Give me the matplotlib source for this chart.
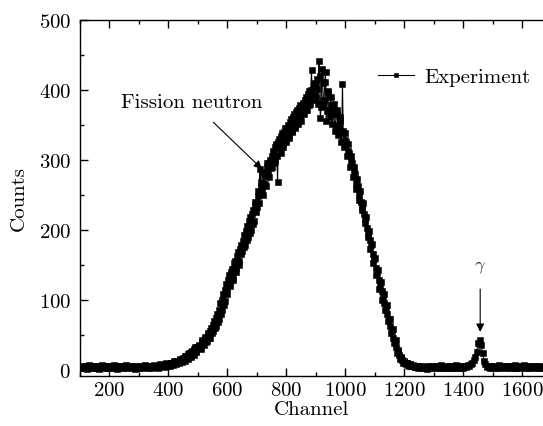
"""Neutron spectrum: counts per channel with fission-neutron bump and gamma line."""

import numpy as np
import matplotlib

matplotlib.use("Agg")
import matplotlib.pyplot as plt

# counts, one value every 5 channels starting at channel 100
# (rows of ten values = 50 channels)
counts = [
    4, 2, 6, 3, 5, 1, 7, 3, 5, 2,            # 100
    6, 3, 5, 1, 4, 7, 2, 5, 3, 6,            # 150
    2, 5, 3, 7, 4, 1, 6, 3, 5, 2,            # 200
    5, 7, 2, 4, 6, 3, 5, 1, 6, 4,            # 250
    3, 6, 2, 5, 7, 4, 2, 6, 3, 5,            # 300
    7, 4, 6, 3, 8, 5, 7, 4, 9, 6,            # 350
    8, 5, 10, 7, 12, 8, 13, 9, 15, 11,       # 400
    17, 13, 20, 16, 24, 18, 27, 21, 32, 25,  # 450
    31, 36, 30, 42, 35, 47, 41, 52, 46, 60,  # 500
    55, 70, 62, 80, 72, 95, 85, 108, 98, 122,          # 550
    115, 135, 125, 144, 132, 156, 145, 168, 150, 178,  # 600
    170, 192, 178, 205, 190, 218, 200, 228, 212, 240,  # 650
    232, 255, 287, 262, 250, 282, 262, 295, 275, 300,  # 700
    290, 312, 298, 322, 268, 330, 310, 338, 318, 345,  # 750
    325, 350, 332, 358, 340, 366, 345, 372, 352, 378,  # 800
    355, 382, 365, 390, 372, 398, 380, 428, 385, 410,  # 850
    388, 415, 442, 360, 430, 378, 412, 355, 398, 372,  # 900
    390, 352, 380, 342, 372, 335, 362, 325, 408, 318,  # 950
    338, 305, 322, 290, 305, 275, 290, 258, 272, 242,  # 1000
    255, 228, 238, 210, 218, 190, 198, 172, 180, 152,  # 1050
    160, 135, 142, 115, 125, 100, 108, 85, 92, 70,     # 1100
    72, 52, 58, 38, 42, 24, 28, 15, 18, 10,  # 1150
    13, 8, 10, 6, 8, 5, 7, 4, 6, 4,          # 1200
    5, 2, 6, 3, 4, 1, 5, 3, 6, 2,            # 1250
    4, 6, 2, 5, 3, 7, 2, 4, 6, 3,            # 1300
    5, 2, 6, 3, 4, 7, 2, 5, 3, 6,            # 1350
    3, 6, 4, 7, 5, 8, 10, 14, 18, 26,        # 1400
    38, 42, 36, 24, 12, 8, 4, 6, 3, 5,       # 1450
    2, 6, 4, 3, 7, 2, 5, 4, 6, 3,            # 1500
    5, 2, 6, 4, 3, 7, 2, 5, 3, 6,            # 1550
    4, 7, 2, 5, 3, 6, 2, 4, 6, 3,            # 1600
    5, 2, 6, 4, 3,                           # 1650
]
first_channel = 100
channel_step = 5

# extra readings in the dense bump, channels 402.5, 407.5, ... 1247.5
counts_mid = [
    7, 9, 8, 11, 10, 12, 11, 14, 13, 16,               # 402.5
    15, 19, 17, 22, 20, 25, 23, 29, 27, 33,            # 452.5
    34, 33, 39, 37, 44, 40, 49, 45, 56, 52,            # 502.5
    64, 60, 74, 68, 86, 80, 100, 93, 114, 108,         # 552.5
    128, 120, 140, 128, 152, 140, 162, 155, 172, 165,  # 602.5
    184, 176, 198, 186, 212, 196, 222, 208, 235, 226,  # 652.5
    248, 238, 268, 256, 278, 266, 290, 280, 296, 288,  # 702.5
    306, 295, 318, 305, 326, 315, 334, 322, 340, 330,  # 752.5
    346, 335, 354, 342, 362, 350, 368, 358, 374, 362,  # 802.5
    376, 368, 386, 372, 394, 378, 400, 388, 405, 392,  # 852.5
    402, 380, 420, 375, 410, 385, 425, 370, 395, 362,  # 902.5
    378, 365, 372, 350, 365, 345, 355, 338, 342, 328,  # 952.5
    325, 312, 310, 298, 295, 282, 280, 266, 262, 250,  # 1002.5
    240, 232, 222, 215, 202, 196, 185, 178, 165, 158,  # 1052.5
    145, 138, 128, 120, 112, 104, 96, 88, 80, 72,      # 1102.5
    62, 55, 46, 40, 32, 26, 21, 17, 14, 11,            # 1152.5
    10, 9, 7, 8, 6, 5, 6, 4, 5, 3,                     # 1202.5
]
first_channel_mid = 402.5

x_ticks = [200, 400, 600, 800, 1000, 1200, 1400, 1600]
y_ticks = [0, 100, 200, 300, 400, 500]


def main() -> None:
    plt.rcParams["font.family"] = "cmr10"
    plt.rcParams["mathtext.fontset"] = "cm"
    plt.rcParams["axes.formatter.use_mathtext"] = True
    plt.rcParams["axes.unicode_minus"] = False

    y_a = np.asarray(counts, dtype=float)
    x_a = first_channel + channel_step * np.arange(y_a.size)
    y_b = np.asarray(counts_mid, dtype=float)
    x_b = first_channel_mid + channel_step * np.arange(y_b.size)
    channel = np.concatenate([x_a, x_b])
    values = np.concatenate([y_a, y_b])
    order = np.argsort(channel)
    channel, values = channel[order], values[order]

    fig = plt.figure(figsize=(5.43, 4.27), dpi=100)
    ax = fig.add_axes([80 / 543, 1 - 377 / 427, 463 / 543, 356 / 427])

    ax.plot(channel, values, color="black", lw=0.8, marker="s",
            markersize=4.0, markeredgewidth=0.4, label="Experiment")

    ax.set_xlim(100, 1670)
    ax.set_ylim(-9, 500)
    ax.set_xticks(x_ticks)
    ax.set_yticks(y_ticks)
    ax.set_xticks(np.arange(100, 1700, 100), minor=True)
    ax.set_yticks(np.arange(0, 501, 50), minor=True)
    ax.tick_params(which="both", direction="in", top=True, right=False,
                   labelsize=15, width=1.0, colors="black")
    ax.tick_params(axis="y", pad=6.5)
    ax.tick_params(which="major", length=6)
    ax.tick_params(which="minor", length=3)
    ax.spines["right"].set_visible(False)
    for side in ("left", "top", "bottom"):
        ax.spines[side].set_linewidth(1.0)

    ax.set_xlabel("Channel", fontsize=15, labelpad=1)
    ax.set_ylabel("Counts", fontsize=15, labelpad=8)

    ax.annotate("Fission neutron", xy=(717, 287), xytext=(480, 383),
                fontsize=15, ha="center", va="center",
                arrowprops=dict(arrowstyle="-|>", color="black", lw=0.8,
                                mutation_scale=12, shrinkA=9, shrinkB=0))
    ax.annotate(r"$\gamma$", xy=(1457, 54), xytext=(1457, 147),
                fontsize=13, ha="center", va="center", color="#333333",
                arrowprops=dict(arrowstyle="-|>", color="black", lw=0.8,
                                mutation_scale=12, shrinkA=8, shrinkB=0))

    ax.legend(loc="center left", bbox_to_anchor=(0.643, 0.84), frameon=False,
              fontsize=15, handlelength=1.75, handletextpad=0.5,
              borderpad=0, borderaxespad=0, markerscale=0.75)

    fig.savefig("out.png", dpi=100)
    plt.close(fig)


if __name__ == "__main__":
    main()
